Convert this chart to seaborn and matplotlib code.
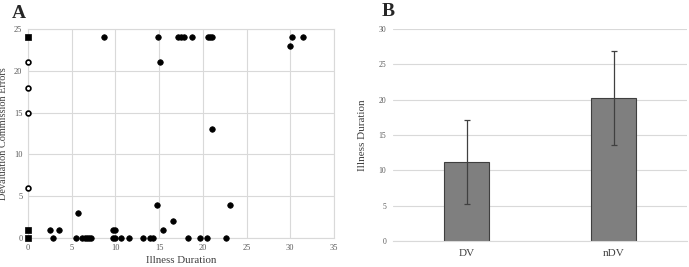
import matplotlib
matplotlib.use("Agg")
import matplotlib.pyplot as plt
import seaborn as sns
import pandas as pd

# Panel A data: filled circles
dur_filled = [8.7, 14.9, 17.2, 17.5, 17.8, 18.75, 20.6, 20.8, 21.0, 30.2, 31.4,
              30.0, 15.1, 21.0, 14.75, 23.1, 5.7, 16.6,
              2.5, 3.5, 9.7, 9.9, 15.4,
              2.9, 5.5, 6.2, 6.5, 6.8, 7.0, 7.2, 9.7, 9.9, 10.6, 11.6, 13.2, 14.0, 14.3,
              18.3, 19.7, 20.5, 22.7]
err_filled = [24, 24, 24, 24, 24, 24, 24, 24, 24, 24, 24,
              23, 21, 13, 4, 4, 3, 2,
              1, 1, 1, 1, 1,
              0, 0, 0, 0, 0, 0, 0, 0, 0, 0, 0, 0, 0, 0,
              0, 0, 0, 0]
# squares at x=0
dur_square = [0, 0, 0]
err_square = [24, 1, 0]
# open circles at x=0
dur_open = [0, 0, 0, 0]
err_open = [21, 18, 15, 6]

# Panel B data
groups = ["DV", "nDV"]
means = [11.2, 20.2]
errs = [5.9, 6.65]

sns.set_style("white")
plt.rcParams['font.family'] = ['Liberation Serif', 'DejaVu Serif']

fig = plt.figure(figsize=(6.89, 2.67), dpi=100)
axA = fig.add_axes([28/689, 1-238/267, (334-28)/689, (238-29)/267])
axB = fig.add_axes([393/689, 1-241/267, (687-393)/689, (241-29)/267])

grid_c = "#d9d9d9"
tick_c = "#595959"

dfF = pd.DataFrame({"x": dur_filled, "y": err_filled})
dfS = pd.DataFrame({"x": dur_square, "y": err_square})
dfO = pd.DataFrame({"x": dur_open, "y": err_open})
sns.scatterplot(data=dfF, x="x", y="y", ax=axA, color="black", s=16, marker="o",
                edgecolor="black", linewidth=0.5, zorder=3, clip_on=False)
sns.scatterplot(data=dfS, x="x", y="y", ax=axA, color="black", s=16, marker="s",
                edgecolor="black", linewidth=0.5, zorder=3, clip_on=False)
sns.scatterplot(data=dfO, x="x", y="y", ax=axA, color="white", s=12, marker="o",
                edgecolor="black", linewidth=1.2, zorder=3, clip_on=False)
axA.set_xlim(0, 35)
axA.set_ylim(0, 25)
axA.set_xticks(range(0, 36, 5))
axA.set_yticks(range(0, 26, 5))
axA.grid(True, color=grid_c, linewidth=0.8)
axA.set_axisbelow(True)
for sp in axA.spines.values():
    sp.set_color(grid_c)
    sp.set_linewidth(0.8)
axA.tick_params(length=0, labelsize=6, labelcolor=tick_c, pad=4)
axA.set_xlabel("Illness Duration", fontsize=7.8, color="#404040", labelpad=3)
axA.set_ylabel("Devaluation Commission Errors", fontsize=7.4, color="#404040")
axA.yaxis.set_label_coords(-20/306, 0.5)

dfB = pd.DataFrame({"group": groups, "mean": means})
sns.barplot(data=dfB, x="group", y="mean", ax=axB, color="#7f7f7f", width=0.31,
            edgecolor="#3f3f3f", linewidth=0.8, saturation=1, zorder=2)
axB.errorbar(range(len(groups)), means, yerr=errs, fmt="none", ecolor="#404040",
             elinewidth=0.9, capsize=2, capthick=0.9, zorder=3)
axB.set_xlim(-0.5, 1.5)
axB.set_ylim(0, 30)
axB.set_yticks(range(0, 31, 5))
axB.yaxis.grid(True, color=grid_c, linewidth=0.8)
axB.set_axisbelow(True)
for sp in ["top", "right", "left"]:
    axB.spines[sp].set_visible(False)
axB.spines["bottom"].set_color(grid_c)
axB.spines["bottom"].set_linewidth(0.8)
axB.tick_params(axis="y", length=0, labelsize=5.5, labelcolor=tick_c, pad=5)
axB.tick_params(axis="x", length=0, labelsize=8, labelcolor="#404040", pad=6)
axB.set_xlabel("")
axB.set_ylabel("Illness Duration", fontsize=8, color="#404040")
axB.yaxis.set_label_coords(-26/294, 0.5)

fig.text(12/689, 1-14/267, "A", fontsize=14, fontweight="bold", va="center", ha="left")
fig.text(382/689, 1-11/267, "B", fontsize=14, fontweight="bold", va="center", ha="left")

fig.savefig("out.png", dpi=100)
